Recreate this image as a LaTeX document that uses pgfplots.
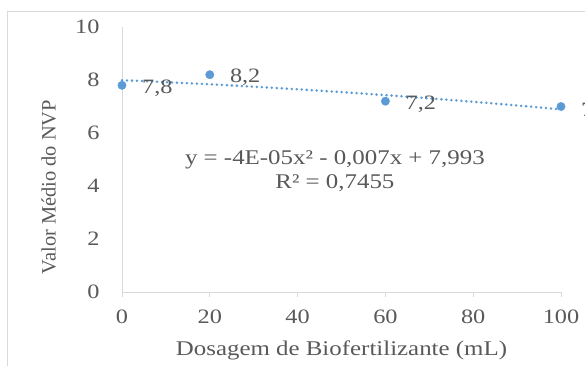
\documentclass[border=0pt]{standalone}
\usepackage{pgfplots}
\pgfplotsset{compat=1.18}
\usepackage{fontspec}
\setmainfont{Liberation Serif}[FakeStretch=1.19]
\newfontfamily\plainfont{Liberation Serif}
\definecolor{txt}{HTML}{595959}
\definecolor{axc}{HTML}{D9D9D9}
\definecolor{pt}{HTML}{5B9BD5}
\begin{document}
\begin{tikzpicture}[x=1bp,y=1bp]
\useasboundingbox (0,0) rectangle (585,365);
\draw[axc, line width=1bp] (7,-20) rectangle (620,353);
\begin{axis}[
  at={(122bp,73bp)}, anchor=south west, scale only axis,
  width=439bp, height=265bp,
  xmin=0, xmax=100, ymin=0, ymax=10,
  axis lines=left,
  axis line style={axc, line width=1bp, -},
  xtick={0,20,...,100}, ytick={0,2,...,10},
  tick align=outside, major tick length=5bp,
  x tick style={axc, line width=1bp},
  y tick style={draw=none},
  ticklabel style={font=\fontsize{20.5}{24}\selectfont, text=txt},
  /pgf/number format/assume math mode=true,
  xticklabel style={yshift=-9bp},
  yticklabel style={xshift=-14bp},
  clip=false,
  xlabel={Dosagem de Biofertilizante (mL)},
  ylabel={Valor Médio do NVP},
  xlabel style={font=\fontsize{21}{24}\selectfont, text=txt, at={(axis description cs:0.5,-0.222)}, anchor=center},
  ylabel style={font=\plainfont\fontsize{20.5}{24}\selectfont, text=txt, at={(axis description cs:-0.167,0.396)}, anchor=center, rotate=0},
]
\addplot[pt, line width=2.8bp, line cap=round, dash pattern=on 0pt off 5bp, smooth]
  coordinates {(0,7.993) (10,7.919) (20,7.837) (30,7.747) (40,7.649) (50,7.543) (60,7.429) (70,7.307) (80,7.177) (90,7.039) (100,6.893)};
\addplot[only marks, mark=*, mark size=4.2bp, mark options={fill=pt, draw=pt},
  point meta=explicit symbolic,
  nodes near coords,
  nodes near coords style={anchor=west, inner sep=0pt, xshift=20bp, yshift=-3bp, font=\fontsize{20.5}{24}\selectfont, text=txt}]
  coordinates {(0,7.8) [7,8] (20,8.2) [8,2] (60,7.2) [7,2] (100,7.0) [7]};
\node[font=\fontsize{21}{24}\selectfont, text=txt] at (axis cs:48.5,4.98) {y = -4E-05x² - 0,007x + 7,993};
\node[font=\fontsize{21}{24}\selectfont, text=txt] at (axis cs:48.5,4.11) {R² = 0,7455};
\end{axis}
\end{tikzpicture}
\end{document}
